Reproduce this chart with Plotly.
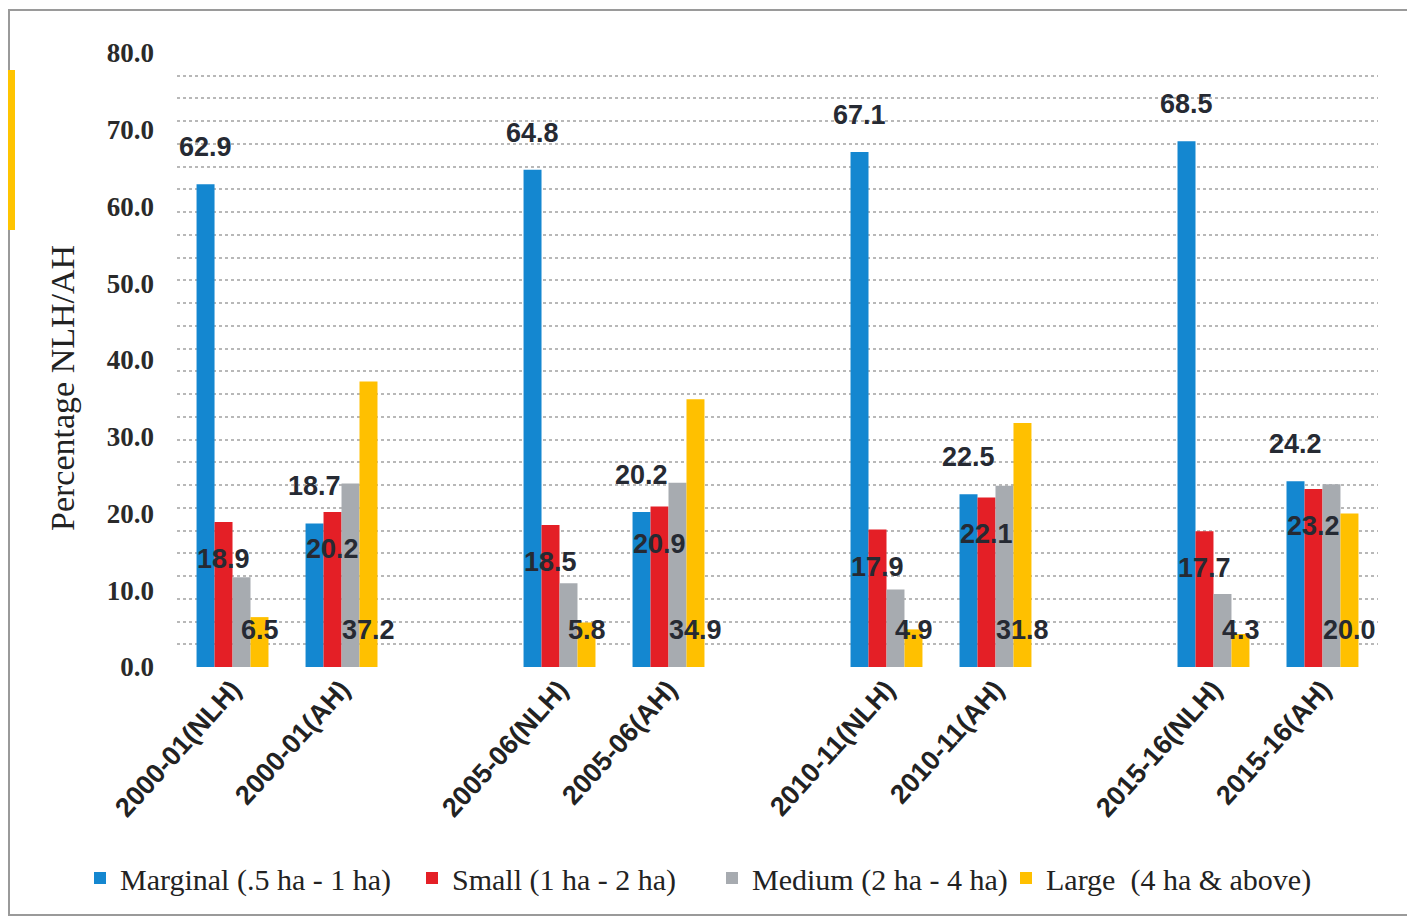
import plotly.graph_objects as go

# categories (blank slots give the gaps between survey years)
categories = [
    "2000-01(NLH)", "2000-01(AH)", " ",
    "2005-06(NLH)", "2005-06(AH)", "  ",
    "2010-11(NLH)", "2010-11(AH)", "   ",
    "2015-16(NLH)", "2015-16(AH)",
]

marginal = [62.9, 18.7, None, 64.8, 20.2, None, 67.1, 22.5, None, 68.5, 24.2]
small = [18.9, 20.2, None, 18.5, 20.9, None, 17.9, 22.1, None, 17.7, 23.2]
medium = [11.7, 23.9, None, 10.9, 24.0, None, 10.1, 23.6, None, 9.5, 23.8]
large = [6.5, 37.2, None, 5.8, 34.9, None, 4.9, 31.8, None, 4.3, 20.0]

series_names = [
    "Marginal (.5 ha - 1 ha)",
    "Small (1 ha - 2 ha)",
    "Medium (2 ha - 4 ha)",
    "Large  (4 ha & above)",
]

COLORS = {
    "marginal": "#1487D0",
    "small": "#E41F26",
    "medium": "#A7ABB0",
    "large": "#FFC000",
    "label": "#262A33",
    "grid": "#B8B8B8",
    "frame": "#9A9A9A",
}

LABEL_FONT = dict(family="Liberation Sans, Arial, sans-serif", size=27, color=COLORS["label"], weight="bold")
SERIF = "Liberation Serif, Times New Roman, serif"

# page body adds an 8px offset, so margins are set 8px tighter on the top/left
W, H, BODY = 1415, 920, 8
PLOT_X0, PLOT_X1, PLOT_Y0, PLOT_Y1 = 177, 1378, 53, 667   # wanted plot box on screen
PW, PH = PLOT_X1 - PLOT_X0, PLOT_Y1 - PLOT_Y0
BARGAP = 0.34
cat_px = PW / len(categories)
bar_px = cat_px * (1 - BARGAP) / 4


def bar_shift(i):
    return (i - 1.5) * bar_px


def px(x):
    return (x - PLOT_X0) / PW


def py(y):
    return (PLOT_Y1 - y) / PH


fig = go.Figure()
legend_ids = ["legend", "legend2", "legend3", "legend4"]
for name, vals, col, lg in zip(series_names, [marginal, small, medium, large],
                               ["marginal", "small", "medium", "large"], legend_ids):
    fig.add_trace(go.Bar(
        x=categories, y=vals, name=name, legend=lg,
        marker_color=COLORS[col], marker_line_width=0,
    ))

# data labels: marginal above bar, small inside near top, large at base
for cat, v in zip(categories, marginal):
    if v is None:
        continue
    fig.add_annotation(x=cat, y=v, text=f"{v:.1f}", showarrow=False,
                       xshift=bar_shift(0), yanchor="bottom", yshift=20, font=LABEL_FONT)
for cat, v in zip(categories, small):
    if v is None:
        continue
    fig.add_annotation(x=cat, y=v, text=f"{v:.1f}", showarrow=False,
                       xshift=bar_shift(1), yanchor="middle", yshift=-37, font=LABEL_FONT)
for cat, v in zip(categories, large):
    if v is None:
        continue
    fig.add_annotation(x=cat, y=0, text=f"{v:.1f}", showarrow=False,
                       xshift=bar_shift(3), yanchor="bottom", yshift=20, font=LABEL_FONT)

# y axis title as annotation so it can sit where the original has it
fig.add_annotation(xref="paper", yref="paper", x=px(62), y=py(388),
                   text="Percentage NLH/AH", textangle=-90,
                   showarrow=False, xanchor="center", yanchor="middle",
                   font=dict(family=SERIF, size=34, color="#222222"))

legend_style = dict(orientation="h", xanchor="left", yanchor="middle", y=py(878),
                    font=dict(family=SERIF, size=30, color="#222222"), itemwidth=30,
                    bgcolor="rgba(0,0,0,0)")
legend_left = [80, 412, 712, 1006]

fig.update_layout(
    width=W, height=H,
    paper_bgcolor="white", plot_bgcolor="white",
    margin=dict(l=PLOT_X0 - BODY, r=W - (PLOT_X1 - BODY), t=PLOT_Y0 - BODY,
                b=H - (PLOT_Y1 - BODY), autoexpand=False),
    barmode="group", bargap=BARGAP, bargroupgap=0,
    showlegend=True,
    legend=dict(x=px(legend_left[0]), **legend_style),
    legend2=dict(x=px(legend_left[1]), **legend_style),
    legend3=dict(x=px(legend_left[2]), **legend_style),
    legend4=dict(x=px(legend_left[3]), **legend_style),
)

fig.update_yaxes(
    range=[0, 80], dtick=10, tickformat=".1f", automargin=False,
    showgrid=False, zeroline=False, showline=False,
    ticklabelstandoff=22,
    tickfont=dict(family=SERIF, size=27, color="#2A2A2A", weight="bold"),
    minor=dict(showgrid=True, tick0=0, dtick=80 / 27, gridcolor=COLORS["grid"], griddash="dot", gridwidth=2),
)
fig.update_xaxes(
    type="category", tickangle=-48, showgrid=False, showline=False, automargin=False,
    tickfont=dict(family="Liberation Sans, Arial, sans-serif", size=27, color="#222222", weight="bold"),
)

# outer frame and the yellow page accent on the left edge
fig.add_shape(type="rect", xref="paper", yref="paper",
              x0=px(9), x1=px(1408), y0=py(915), y1=py(10),
              line=dict(color=COLORS["frame"], width=2), fillcolor="rgba(0,0,0,0)", layer="below")
fig.add_shape(type="rect", xref="paper", yref="paper",
              x0=px(BODY), x1=px(15), y0=py(230), y1=py(70),
              line=dict(width=0), fillcolor="#FFC400")

fig.write_html("out.html")
